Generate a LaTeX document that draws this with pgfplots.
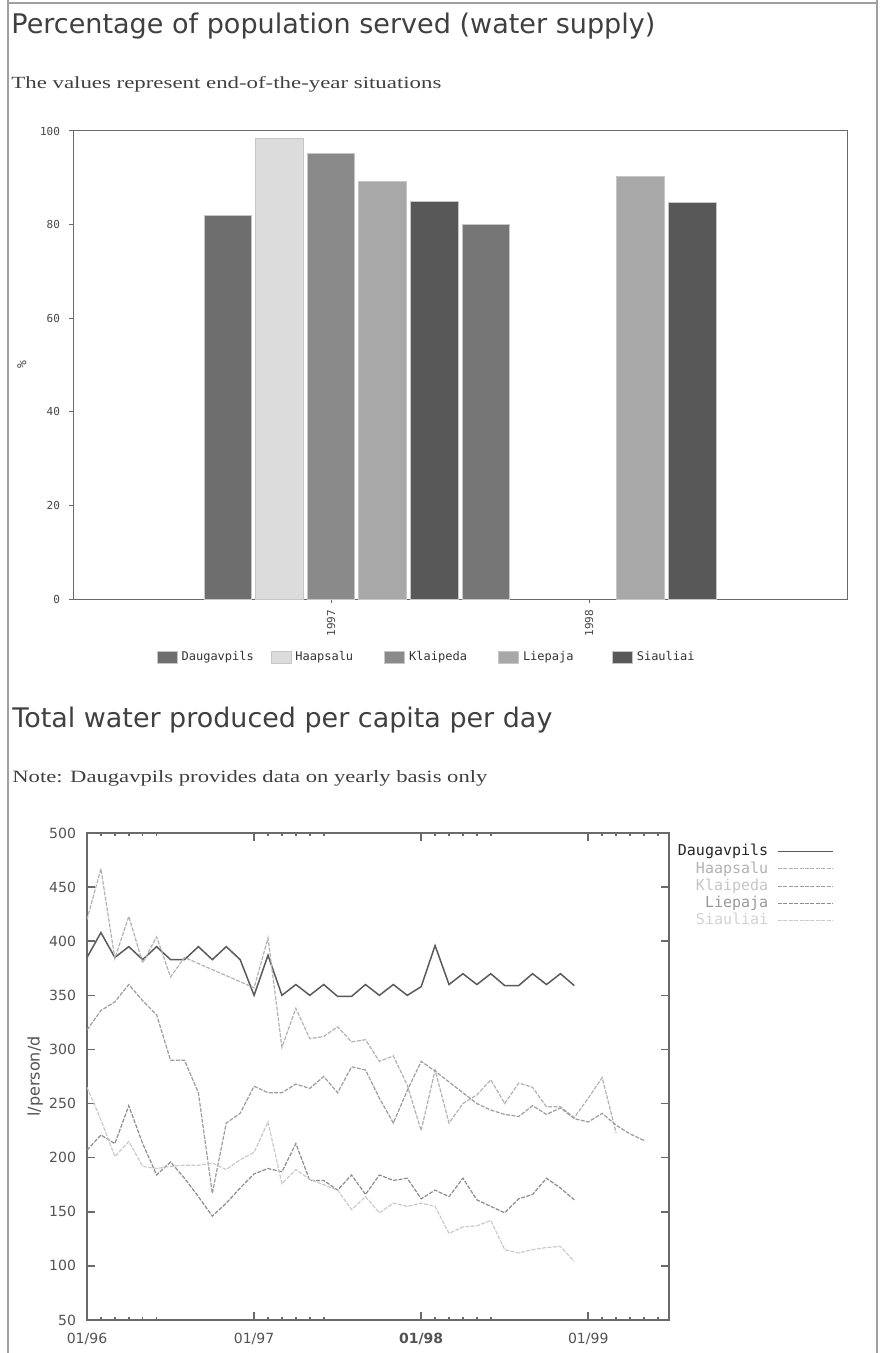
\documentclass[border=0pt]{standalone}
\usepackage{pgfplots}
\pgfplotsset{compat=1.18}
\usepackage{fontspec}
\setmainfont{Liberation Serif}
\newfontfamily\sansf{DejaVu Sans}
\newfontfamily\monof{DejaVu Sans Mono}
\definecolor{framec}{HTML}{A0A0A0}
\definecolor{titlec}{HTML}{404040}
\definecolor{axc}{HTML}{6A6A6A}
\definecolor{bD}{HTML}{6E6E6E}
\definecolor{bH}{HTML}{DCDCDC}
\definecolor{bK}{HTML}{8A8A8A}
\definecolor{bL}{HTML}{A8A8A8}
\definecolor{bS}{HTML}{585858}
\definecolor{bX}{HTML}{767676}
\definecolor{lA}{HTML}{5A5A5A}
\definecolor{lB}{HTML}{B2B2B2}
\definecolor{lC}{HTML}{9C9C9C}
\definecolor{lD}{HTML}{8C8C8C}
\definecolor{lE}{HTML}{CACACA}

\pgfplotstableread{
m v
0 385
1 408
2 385
3 395
4 383
5 395
6 383
7 383
8 395
9 383
10 395
11 383
12 350
13 387
14 350
15 360
16 350
17 360
18 349
19 349
20 360
21 350
22 360
23 350
24 358
25 396
26 360
27 370
28 360
29 370
30 359
31 359
32 370
33 360
34 370
35 359
}\tabA
\pgfplotstableread{
m v
0 420
1 467
2 384
3 423
4 380
5 404
6 367
7 385
12 357
13 403
14 302
15 338
16 310
17 312
18 321
19 307
20 309
21 289
22 294
23 267
24 225
25 281
26 232
27 250
28 258
29 272
30 250
31 269
32 265
33 247
34 247
35 237
36 255
37 274
38 223
}\tabB
\pgfplotstableread{
m v
0 318
1 336
2 344
3 360
4 345
5 332
6 290
7 290
8 260
9 167
10 232
11 241
12 266
13 260
14 260
15 268
16 264
17 275
18 260
19 284
20 281
21 255
22 232
23 262
24 289
25 280
26 270
27 260
28 250
29 244
30 240
31 238
32 248
33 240
34 246
35 236
36 233
37 241
38 230
39 222
40 216
}\tabC
\pgfplotstableread{
m v
0 207
1 221
2 213
3 248
4 213
5 184
6 196
7 181
8 164
9 146
10 158
11 172
12 185
13 190
14 187
15 213
16 179
17 179
18 170
19 184
20 166
21 184
22 179
23 181
24 162
25 170
26 164
27 181
28 161
29 155
30 149
31 162
32 166
33 181
34 172
35 161
}\tabD
\pgfplotstableread{
m v
0 265
1 235
2 201
3 215
4 192
5 190
6 192
7 193
8 193
9 195
10 189
11 198
12 205
13 233
14 176
15 189
16 180
17 175
18 170
19 152
20 164
21 149
22 158
23 155
24 158
25 155
26 130
27 136
28 137
29 142
30 115
31 112
32 115
33 117
34 118
35 104
}\tabE

\begin{document}
\begin{tikzpicture}
\path[use as bounding box] (0pt,0pt) rectangle (440pt,-676.5pt);
\draw[framec, line width=0.9pt] (4pt,0pt) -- (4pt,-676.5pt);
\draw[framec, line width=0.9pt] (438.5pt,0pt) -- (438.5pt,-676.5pt);
\draw[framec, line width=0.9pt] (4pt,-1.5pt) -- (438.5pt,-1.5pt);

\node[anchor=base west, inner sep=0pt, text=titlec] at (5.5pt,-17pt)
  {\resizebox{322pt}{!}{\sansf Percentage of population served (water supply)}};
\node[anchor=base west, inner sep=0pt, text=titlec] at (5.5pt,-44.5pt)
  {\resizebox{215pt}{6pt}{The values represent end-of-the-year situations}};
\node[anchor=base west, inner sep=0pt, text=titlec] at (6pt,-363.5pt)
  {\resizebox{270pt}{!}{\sansf Total water produced per capita per day}};
\node[anchor=base west, inner sep=0pt, text=titlec] at (6pt,-391pt)
  {\resizebox{237.5pt}{6pt}{Note: Daugavpils provides data on yearly basis only}};

\begin{axis}[
  at={(36.5pt,-65.5pt)}, anchor=north west,
  scale only axis, width=387pt, height=234pt,
  xmin=1996, xmax=1999, ymin=0, ymax=100,
  axis line style={draw=axc, line width=0.5pt},
  tick style={draw=axc, line width=0.5pt},
  tick align=outside, major tick length=2pt,
  xtick={1997,1998}, xticklabels={1997,1998},
  ytick={0,20,40,60,80,100},
  xtick pos=bottom, ytick pos=left,
  /pgf/number format/assume math mode=true,
  yticklabel style={font=\monof\fontsize{5.5}{6}\selectfont, text=gray!55!black, xshift=-1pt},
  xticklabel style={font=\monof\fontsize{5.5}{6}\selectfont, text=gray!55!black, rotate=90, anchor=east},
  ylabel={\%},
  every axis y label/.style={at={(axis description cs:-0.066,0.5)}, rotate=90, anchor=center, font=\monof\fontsize{6.5}{7}\selectfont, text=gray!55!black},
  legend style={at={(axis description cs:0.100,-0.124)}, anchor=west, draw=none, fill=none,
    legend columns=5, font=\monof\fontsize{6}{7}\selectfont, text=gray!40!black,
    /tikz/every even column/.append style={column sep=0pt}},
  legend cell align=left,
  legend image code/.code={\draw[#1] (0pt,-3pt) rectangle (10pt,3pt);},
]
\addplot[ybar, bar width=0.184, bar shift=0pt, fill=bD, draw=gray!45] coordinates {(1996.6,82)};
\addlegendentry{\makebox[42.5pt][l]{Daugavpils}}
\addplot[ybar, bar width=0.184, bar shift=0pt, fill=bH, draw=gray!45] coordinates {(1996.8,98.4)};
\addlegendentry{\makebox[42.5pt][l]{Haapsalu}}
\addplot[ybar, bar width=0.184, bar shift=0pt, fill=bK, draw=gray!45] coordinates {(1997.0,95.2)};
\addlegendentry{\makebox[42.5pt][l]{Klaipeda}}
\addplot[ybar, bar width=0.184, bar shift=0pt, fill=bL, draw=gray!45] coordinates {(1997.2,89.2) (1998.2,90.2)};
\addlegendentry{\makebox[42.5pt][l]{Liepaja}}
\addplot[ybar, bar width=0.184, bar shift=0pt, fill=bS, draw=gray!45] coordinates {(1997.4,85.0) (1998.4,84.8)};
\addlegendentry{\makebox[42.5pt][l]{Siauliai}}
\addplot[ybar, bar width=0.184, bar shift=0pt, fill=bX, draw=gray!45, forget plot] coordinates {(1997.6,80)};
\end{axis}

\begin{axis}[
  at={(43.5pt,-416.5pt)}, anchor=north west,
  scale only axis, width=291pt, height=243.5pt,
  xmin=0, xmax=41.8, ymin=50, ymax=500,
  xtick={0,12,24,36}, xticklabels={01/96,01/97,\textbf{01/98},01/99},
  minor xtick={1,2,3,4,5,13,14,15,16,17,25,26,27,28,29,37,38,39,40,41},
  ytick={50,100,...,500},
  tick align=inside, major tick length=4pt, minor tick length=1.6pt,
  axis line style={draw=axc, line width=0.8pt},
  tick style={draw=axc, line width=0.8pt},
  /pgf/number format/assume math mode=true,
  ticklabel style={font=\sansf\fontsize{7}{8}\selectfont, text=gray!65!black},
  yticklabel style={xshift=-2pt},
  xticklabel style={yshift=-3pt},
  ylabel={l/person/d},
  every axis y label/.style={at={(axis description cs:-0.089,0.5)}, rotate=90, anchor=center, font=\sansf\fontsize{8}{9}\selectfont, text=gray!65!black},
  legend style={at={(axis description cs:1.294,0.994)}, anchor=north east, draw=none, fill=none,
    font=\monof\fontsize{7.5}{8}\selectfont, row sep=-2.6pt},
  legend cell align=right, legend plot pos=right,
  legend image code/.code={\path (0pt,0pt); \draw[#1] (2.5pt,0pt) -- (30pt,0pt);},
]
\addplot[draw=lA, line width=0.75pt] table[x=m,y=v] {\tabA};
\addlegendentry{\textcolor{gray!30!black}{Daugavpils}}
\addplot[draw=lB, line width=0.6pt, dash pattern=on 2pt off 0.7pt] table[x=m,y=v] {\tabB};
\addlegendentry{\textcolor{lB}{Haapsalu}}
\addplot[draw=lC, line width=0.6pt, dash pattern=on 2pt off 0.7pt] table[x=m,y=v] {\tabC};
\addlegendentry{\textcolor{gray!45}{Klaipeda}}
\addplot[draw=lD, line width=0.6pt, dash pattern=on 2pt off 0.7pt] table[x=m,y=v] {\tabD};
\addlegendentry{\textcolor{gray!80}{Liepaja}}
\addplot[draw=lE, line width=0.6pt, dash pattern=on 2pt off 0.7pt] table[x=m,y=v] {\tabE};
\addlegendentry{\textcolor{gray!35}{Siauliai}}
\end{axis}
\end{tikzpicture}
\end{document}
